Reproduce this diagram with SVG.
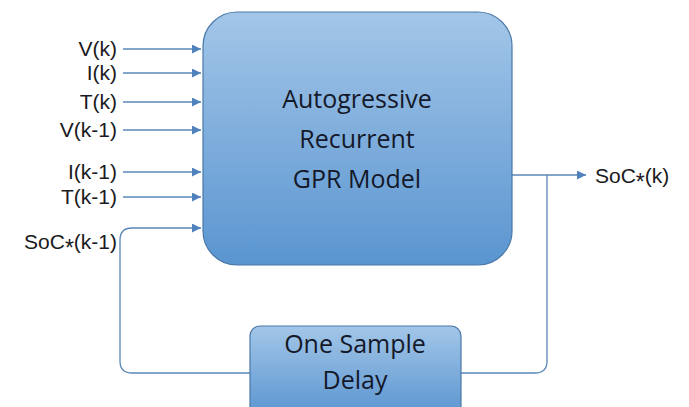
<svg xmlns="http://www.w3.org/2000/svg" width="689" height="407" viewBox="0 0 689 407">
<defs>
<linearGradient id="g" x1="0" y1="0" x2="0" y2="1">
<stop offset="0" stop-color="#a3c6e8"/>
<stop offset="1" stop-color="#5a95d0"/>
</linearGradient>
<marker id="a" viewBox="0 0 10 10" refX="10" refY="5" markerWidth="9" markerHeight="9" markerUnits="userSpaceOnUse" orient="auto">
<path d="M0,0 L10,5 L0,10 z" fill="#4f81bd"/>
</marker>
<style>
.box{fill:url(#g);stroke:#4a78a8;stroke-width:1.2}
.ln{fill:none;stroke:#5b87b8;stroke-width:1.3}
.lbl{font-family:"Liberation Sans",Arial,sans-serif;font-size:21px;fill:#1a1a20}
.big{font-family:"Open Sans","Liberation Sans",sans-serif;font-size:25px;fill:#14192a;text-anchor:middle}
</style>
</defs>
<rect width="689" height="407" fill="#ffffff"/>
<g id="connectors">
<path class="ln" d="M123,49 H201" marker-end="url(#a)"/>
<path class="ln" d="M123,73 H201" marker-end="url(#a)"/>
<path class="ln" d="M123,102 H201" marker-end="url(#a)"/>
<path class="ln" d="M123,130 H201" marker-end="url(#a)"/>
<path class="ln" d="M123,172 H201" marker-end="url(#a)"/>
<path class="ln" d="M123,197 H201" marker-end="url(#a)"/>
<path class="ln" d="M250,373 H132 Q120,373 120,361 V240 Q120,228 132,228 H201" marker-end="url(#a)"/>
<path class="ln" d="M512,175 H586" marker-end="url(#a)"/>
<path class="ln" d="M461,373 H535 Q547,373 547,361 V175"/>
</g>
<g id="model">
<rect class="box" x="203" y="12" width="309" height="253" rx="34"/>
<text class="big" x="357" y="108">Autogressive</text>
<text class="big" x="357" y="148">Recurrent</text>
<text class="big" x="357" y="188">GPR Model</text>
</g>
<g id="delay">
<rect class="box" x="250" y="326" width="211" height="90" rx="10"/>
<text class="big" x="355" y="353">One Sample</text>
<text class="big" x="355" y="389">Delay</text>
</g>
<g id="inputs">
<text class="lbl" x="117" y="56" text-anchor="end">V(k)</text>
<text class="lbl" x="117" y="80" text-anchor="end">I(k)</text>
<text class="lbl" x="117" y="109" text-anchor="end">T(k)</text>
<text class="lbl" x="117" y="137" text-anchor="end">V(k-1)</text>
<text class="lbl" x="117" y="179" text-anchor="end">I(k-1)</text>
<text class="lbl" x="117" y="204" text-anchor="end">T(k-1)</text>
<text class="lbl" x="117" y="249" text-anchor="end">SoC<tspan dy="7" font-size="23">*</tspan><tspan dy="-7">(k-1)</tspan></text>
</g>
<g id="output">
<text class="lbl" x="595" y="183">SoC<tspan dy="7" font-size="23">*</tspan><tspan dy="-7">(k)</tspan></text>
</g>
</svg>
